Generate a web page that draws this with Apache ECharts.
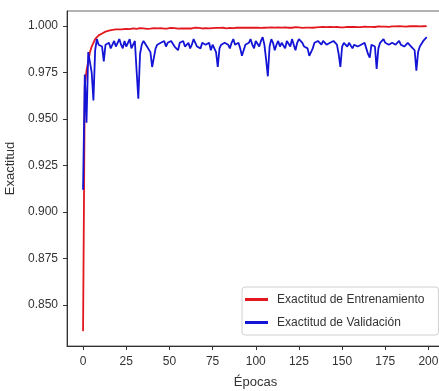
<!DOCTYPE html>
<html>
<head>
<meta charset="utf-8">
<script src="https://cdn.jsdelivr.net/npm/echarts@6/dist/echarts.min.js"></script>
<style>
  html, body { margin: 0; padding: 0; background: #fff; }
  #chart { width: 439px; height: 391px; }
</style>
</head>
<body>
<div id="chart"></div>
<script>
var seriesNames = ['Exactitud de Entrenamiento', 'Exactitud de Validación'];
var xTicks = [0, 25, 50, 75, 100, 125, 150, 175, 200];
var yTicks = [0.850, 0.875, 0.900, 0.925, 0.950, 0.975, 1.000];

// exactitud de entrenamiento, epocas 0..199
var trainAcc = [
    0.836, 0.968, 0.976, 0.981, 0.986, 0.989, 0.991, 0.993, 0.994, 0.995,
    0.9955, 0.996, 0.9964, 0.997, 0.9972, 0.9975, 0.9978, 0.998, 0.9979, 0.9982,
    0.9984, 0.9982, 0.9985, 0.9983, 0.9986, 0.9985, 0.9987, 0.9984, 0.9986, 0.9988,
    0.9986, 0.9985, 0.9987, 0.9989, 0.9986, 0.9988, 0.9987, 0.9985, 0.9988, 0.9986,
    0.9987, 0.9989, 0.9986, 0.9988, 0.9987, 0.9989, 0.9988, 0.9986, 0.9989, 0.9987,
    0.9988, 0.9990, 0.9987, 0.9989, 0.9988, 0.9986, 0.9989, 0.9988, 0.9990, 0.9987,
    0.9989, 0.9988, 0.9990, 0.9987, 0.9989, 0.9991, 0.9988, 0.9990, 0.9989, 0.9987,
    0.9990, 0.9989, 0.9991, 0.9988, 0.9990, 0.9989, 0.9991, 0.9990, 0.9988, 0.9990,
    0.9989, 0.9991, 0.9990, 0.9988, 0.9991, 0.9990, 0.9992, 0.9989, 0.9990, 0.9991,
    0.9989, 0.9991, 0.9990, 0.9992, 0.9990, 0.9991, 0.9989, 0.9991, 0.9990, 0.9992,
    0.9990, 0.9991, 0.9993, 0.9990, 0.9992, 0.9991, 0.9989, 0.9992, 0.9991, 0.9993,
    0.9990, 0.9992, 0.9991, 0.9993, 0.9991, 0.9992, 0.9990, 0.9993, 0.9992, 0.9991,
    0.9993, 0.9991, 0.9992, 0.9994, 0.9991, 0.9993, 0.9992, 0.9990, 0.9993, 0.9992,
    0.9994, 0.9992, 0.9993, 0.9991, 0.9994, 0.9993, 0.9992, 0.9994, 0.9993, 0.9995,
    0.9992, 0.9994, 0.9993, 0.9995, 0.9993, 0.9994, 0.9992, 0.9995, 0.9994, 0.9993,
    0.9995, 0.9993, 0.9994, 0.9996, 0.9994, 0.9995, 0.9993, 0.9996, 0.9995, 0.9994,
    0.9996, 0.9994, 0.9995, 0.9997, 0.9995, 0.9996, 0.9994, 0.9996, 0.9997, 0.9995,
    0.9996, 0.9998, 0.9996, 0.9997, 0.9995, 0.9997, 0.9998, 0.9996, 0.9997, 0.9998,
    0.9996, 0.9998, 0.9997, 0.9999, 0.9997, 0.9998, 0.9999, 0.9997, 0.9998, 0.9999,
    0.9998, 0.9999, 0.9998, 1.0000, 0.9999, 0.9998, 1.0000, 0.9999, 1.0000, 1.0000
];

// exactitud de validacion, epocas 0..199
var valAcc = [
    0.912, 0.974, 0.948, 0.986, 0.985, 0.975, 0.960, 0.987, 0.993, 0.990,
    0.991, 0.989, 0.981, 0.990, 0.989, 0.991, 0.988, 0.990, 0.992, 0.989,
    0.991, 0.993, 0.990, 0.988, 0.992, 0.989, 0.991, 0.993, 0.988, 0.990,
    0.992, 0.976, 0.961, 0.985, 0.990, 0.992, 0.991, 0.989, 0.990, 0.986,
    0.978, 0.977, 0.988, 0.990, 0.989, 0.991, 0.990, 0.992, 0.989, 0.991,
    0.990, 0.992, 0.991, 0.989, 0.990, 0.987, 0.991, 0.990, 0.992, 0.989,
    0.990, 0.991, 0.988, 0.990, 0.993, 0.991, 0.989, 0.990, 0.988, 0.991,
    0.992, 0.990, 0.989, 0.991, 0.987, 0.990, 0.991, 0.986, 0.978, 0.988,
    0.990, 0.989, 0.991, 0.992, 0.990, 0.988, 0.991, 0.993, 0.990, 0.989,
    0.991, 0.988, 0.984, 0.985, 0.990, 0.989, 0.991, 0.993, 0.990, 0.988,
    0.992, 0.991, 0.989, 0.992, 0.994, 0.990, 0.982, 0.973, 0.989, 0.993,
    0.991, 0.987, 0.990, 0.992, 0.989, 0.991, 0.990, 0.988, 0.992, 0.991,
    0.989, 0.993, 0.990, 0.987, 0.991, 0.993, 0.994, 0.991, 0.989, 0.990,
    0.988, 0.984, 0.983, 0.988, 0.991, 0.990, 0.992, 0.991, 0.990, 0.992,
    0.991, 0.990, 0.989, 0.991, 0.990, 0.992, 0.991, 0.990, 0.985, 0.978,
    0.989, 0.991, 0.990, 0.989, 0.991, 0.990, 0.988, 0.990, 0.991, 0.989,
    0.988, 0.990, 0.989, 0.991, 0.988, 0.985, 0.983, 0.990, 0.991, 0.989,
    0.977, 0.988, 0.991, 0.990, 0.993, 0.991, 0.992, 0.990, 0.989, 0.991,
    0.992, 0.990, 0.991, 0.992, 0.990, 0.991, 0.989, 0.990, 0.991, 0.990,
    0.989, 0.990, 0.987, 0.976, 0.986, 0.989, 0.990, 0.992, 0.993, 0.994
];

var font = "'Liberation Sans', Arial, sans-serif";

function toPairs(arr) {
    return arr.map(function (v, i) { return [i, v]; });
}

var myChart = echarts.init(document.getElementById('chart'), null, {renderer: 'canvas'});
myChart.setOption({
    animation: false,
    backgroundColor: '#fff',
    grid: {
        left: 67,
        top: 11,
        width: 377,
        height: 335,
        outerBoundsMode: 'none',
        containLabel: false,
        show: true,
        borderColor: '#666',
        borderWidth: 1
    },
    xAxis: {
        type: 'value',
        min: -9.3,
        max: 209,
        name: 'Épocas',
        nameLocation: 'middle',
        nameGap: 30,
        nameTextStyle: {color: '#333', fontSize: 13, fontFamily: font},
        splitLine: {show: false},
        axisLine: {show: true, onZero: false, lineStyle: {color: '#333', width: 1}},
        axisTick: {show: true, length: 4, customValues: xTicks, lineStyle: {color: '#333'}},
        axisLabel: {
            customValues: xTicks,
            color: '#333',
            fontSize: 12,
            fontFamily: font,
            margin: 10
        }
    },
    yAxis: {
        type: 'value',
        min: 0.828,
        max: 1.0081,
        name: 'Exactitud',
        nameLocation: 'middle',
        nameRotate: 90,
        nameGap: 48,
        nameTextStyle: {color: '#333', fontSize: 13, fontFamily: font, padding: [0, 0, 0, 20]},
        splitLine: {show: false},
        axisLine: {show: true, onZero: false, lineStyle: {color: '#333', width: 1}},
        axisTick: {show: true, length: 4, customValues: yTicks, lineStyle: {color: '#333'}},
        axisLabel: {
            customValues: yTicks,
            color: '#333',
            fontSize: 12,
            fontFamily: font,
            margin: 9,
            formatter: function (v) { return v.toFixed(3); }
        }
    },
    legend: {
        orient: 'vertical',
        left: 242,
        top: 287,
        padding: [6, 14, 6, 3],
        itemGap: 10,
        itemWidth: 23,
        itemHeight: 3,
        icon: 'rect',
        backgroundColor: '#fff',
        borderColor: '#d0d0d0',
        borderWidth: 1,
        borderRadius: 3,
        textStyle: {color: '#333', fontSize: 12, lineHeight: 13, fontFamily: font, padding: [0, 0, 0, 4]},
        data: seriesNames
    },
    series: [
        {
            name: seriesNames[0],
            type: 'line',
            showSymbol: false,
            color: '#e3181f',
            lineStyle: {color: '#e3181f', width: 1.8},
            data: toPairs(trainAcc)
        },
        {
            name: seriesNames[1],
            type: 'line',
            showSymbol: false,
            color: '#1414d6',
            lineStyle: {color: '#1414d6', width: 1.8},
            data: toPairs(valAcc)
        }
    ]
});
</script>
</body>
</html>
